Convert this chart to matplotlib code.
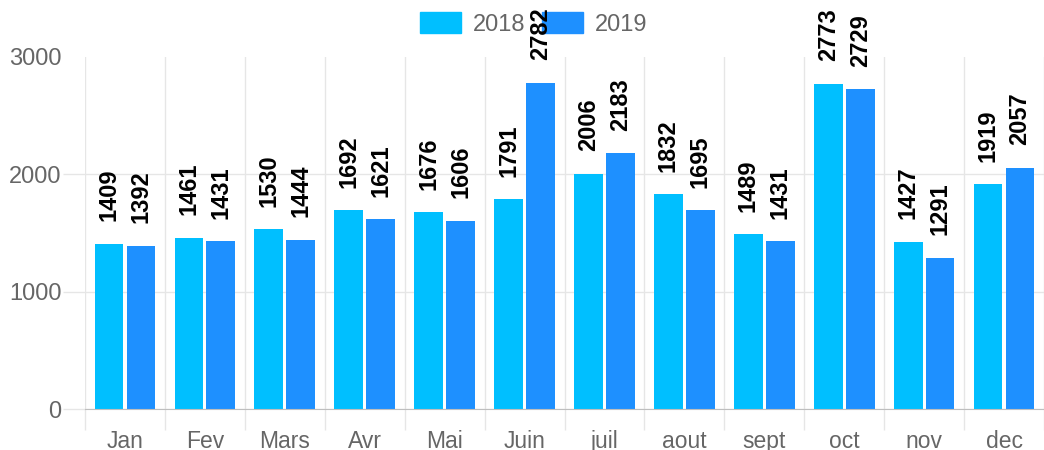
import numpy as np
import matplotlib
matplotlib.use('Agg')
import matplotlib.pyplot as plt
from matplotlib.patches import Patch

months = ['Jan', 'Fev', 'Mars', 'Avr', 'Mai', 'Juin', 'juil', 'aout', 'sept', 'oct', 'nov', 'dec']
v2018 = [1409, 1461, 1530, 1692, 1676, 1791, 2006, 1832, 1489, 2773, 1427, 1919]
v2019 = [1392, 1431, 1444, 1621, 1606, 2782, 2183, 1695, 1431, 2729, 1291, 2057]
series = ['2018', '2019']
colors = ['#00BFFF', '#1E90FF']

plt.rcParams['font.family'] = ['Liberation Sans', 'DejaVu Sans']

W, H = 1044, 450
fig = plt.figure(figsize=(W / 100, H / 100), dpi=100)
ax = fig.add_axes([85 / W, 41 / H, 959 / W, 352 / H])

x = np.arange(len(months))
bw = 0.36
for vals, col, off in [(v2018, colors[0], -0.2), (v2019, colors[1], 0.2)]:
    bars = ax.bar(x + off, vals, width=bw, color=col, zorder=2)
    for b, v in zip(bars, vals):
        ax.annotate(str(v), (b.get_x() + b.get_width() / 2, v), xytext=(0, 16),
                    textcoords='offset points', rotation=90, ha='center', va='bottom',
                    fontsize=17, fontweight='bold', color='black',
                    zorder=6, annotation_clip=False)

# la derniere categorie est coupee a droite comme sur l'original
ax.set_xlim(-0.5, -0.5 + 959 / 80.9)
ax.set_ylim(0, 3000)

grid_c = '#e6e6e6'
ax.set_xticks(x)
ax.set_xticklabels(months)
ax.set_xticks(np.arange(-0.5, 12, 1), minor=True)
ax.tick_params(axis='x', which='major', length=0, pad=15, labelsize=16.5, labelcolor='#666666')
ax.tick_params(axis='x', which='minor', length=15, width=1, color=grid_c)
ax.grid(axis='x', which='minor', color=grid_c, linewidth=1, zorder=0)

ax.set_yticks([0, 1000, 2000, 3000])
ax.tick_params(axis='y', length=16, width=1, color=grid_c, pad=1, labelsize=17, labelcolor='#666666')
ax.grid(axis='y', which='major', color=grid_c, linewidth=1, zorder=0)
yt = ax.yaxis.get_major_ticks()
yt[-1].tick1line.set_visible(False)
yt[-1].gridline.set_visible(False)
yt[0].tick1line.set_color('#bfbfbf')

for s in ['top', 'right', 'left']:
    ax.spines[s].set_visible(False)
ax.spines['bottom'].set_color('#bfbfbf')
ax.set_axisbelow(True)

handles = [Patch(facecolor=c, edgecolor=c) for c in colors]
leg = ax.legend(handles, series, loc='center', bbox_to_anchor=(533.5 / W, 1 - 24 / H),
                bbox_transform=fig.transFigure, ncol=2, frameon=False, fontsize=17,
                handlelength=1.74, handleheight=1.0, handletextpad=0.5,
                columnspacing=0.72, borderpad=0, labelcolor='#666666')
leg.set_zorder(5)

fig.savefig('out.png', dpi=100)
